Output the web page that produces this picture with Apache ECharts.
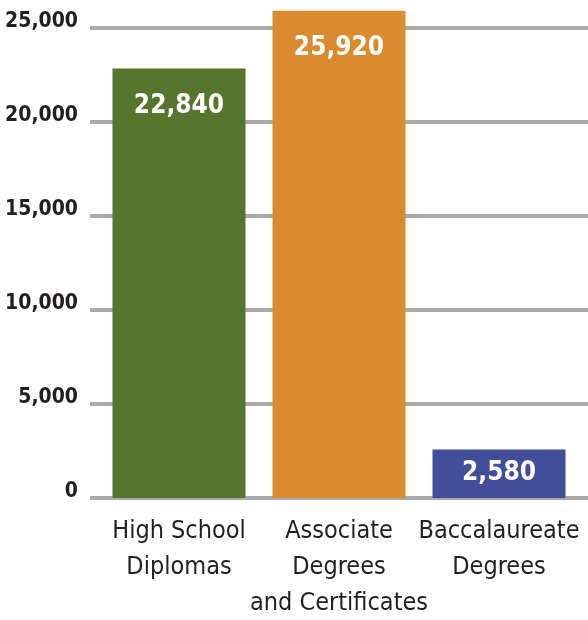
<!DOCTYPE html>
<html><head><meta charset="utf-8">
<script src="https://cdn.jsdelivr.net/npm/echarts@6/dist/echarts.min.js"></script>
<style>html,body{margin:0;padding:0;background:#fff}#c{width:588px;height:620px}</style>
</head><body><div id="c"></div>
<script>
const categories = ['High School\nDiplomas', 'Associate\nDegrees\nand Certificates', 'Baccalaureate\nDegrees'];
const values = [22840, 25920, 2580];
const barColors = ['#56752d', '#db8a2d', '#434e9b'];
const labelPositions = ['insideTop', 'insideTop', 'inside'];
const yMin = 0, yMax = 25000, yStep = 5000;

const FONT = "'Liberation Sans Narrow', 'Arial Narrow', 'DejaVu Sans Condensed', sans-serif";
const chart = echarts.init(document.getElementById('c'), null, {renderer: 'canvas'});
const fmt = v => Number(v).toLocaleString('en-US');

chart.setOption({
  animation: false,
  backgroundColor: '#ffffff',
  grid: [
    {left: 99, right: 9, top: 28, bottom: 122, containLabel: false, outerBoundsMode: 'none'},
    {left: 90, right: 0, top: 28, bottom: 122, containLabel: false, outerBoundsMode: 'none'}
  ],
  xAxis: [
    {
      type: 'category', gridIndex: 0, data: categories,
      axisLine: {show: false}, axisTick: {show: false},
      axisLabel: {fontFamily: FONT, fontSize: 25, color: '#231f20', lineHeight: 36, margin: 15, interval: 0}
    },
    {type: 'value', gridIndex: 1, min: 0, max: 1, show: false}
  ],
  yAxis: [
    {type: 'value', gridIndex: 0, min: yMin, max: yMax, interval: yStep, show: false, splitLine: {show: false}},
    {
      type: 'value', gridIndex: 1, min: yMin, max: yMax, interval: yStep,
      axisLine: {show: false}, axisTick: {show: false},
      axisLabel: {fontFamily: FONT, fontSize: 21, fontWeight: 'bold', color: '#231f20', margin: 12,
                  verticalAlign: 'bottom', lineHeight: 12, formatter: fmt},
      splitLine: {lineStyle: {color: '#a9aaad', width: 4}}
    }
  ],
  series: [{
    type: 'bar', xAxisIndex: 0, yAxisIndex: 0, clip: false,
    barWidth: 133,
    data: values.map((v, i) => ({
      value: v,
      itemStyle: {color: barColors[i]},
      label: {position: labelPositions[i]}
    })),
    label: {
      show: true, distance: 25, color: '#ffffff', fontFamily: FONT, fontSize: 26, fontWeight: 'bold',
      formatter: p => fmt(p.value)
    }
  }]
});
</script></body></html>
